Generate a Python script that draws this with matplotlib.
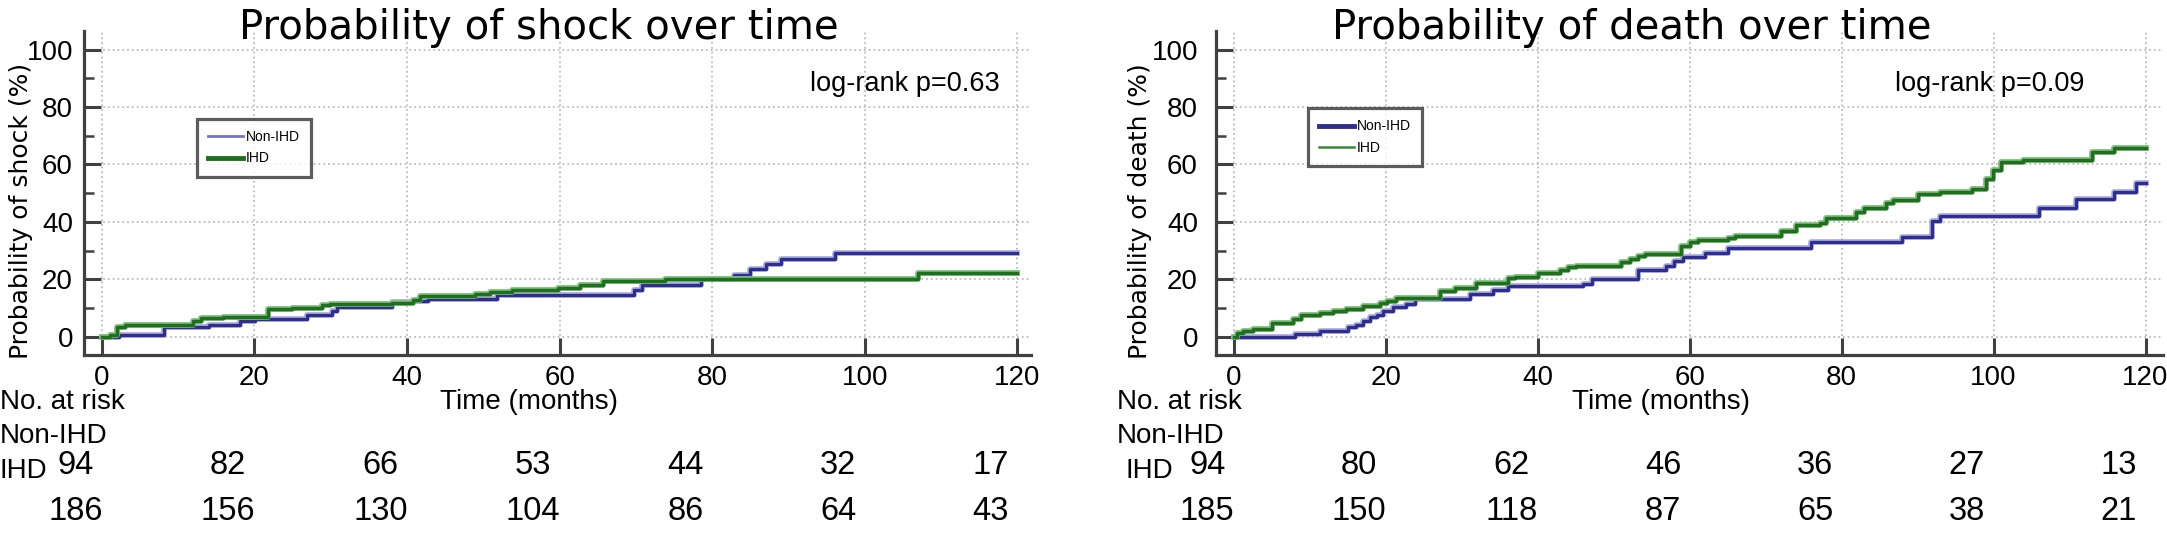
import matplotlib
matplotlib.use("Agg")
import matplotlib.pyplot as plt
import matplotlib.patheffects as pe
from matplotlib.lines import Line2D
from matplotlib.transforms import blended_transform_factory
from matplotlib.ticker import MultipleLocator

plt.rcParams['font.family'] = ['Liberation Sans', 'DejaVu Sans']

# ---- data (months, cumulative %) ----
shock_nonihd_t = [0, 2.2, 8.1, 14.1, 18.1, 20.1, 26.9, 30.1, 30.8, 38.0, 40.8, 42.8, 51.8,
                  69.7, 70.8, 78.6, 82.9, 85.0, 87.1, 89.0, 96.1, 120]
shock_nonihd_p = [0, 0.6, 3.2, 4.0, 5.5, 6.2, 7.5, 9.0, 10.2, 12.1, 12.4, 13.2, 14.5,
                  16.2, 17.9, 20.0, 21.4, 23.5, 25.3, 27.0, 29.0, 29.0]
shock_ihd_t = [0, 1.1, 2.0, 3.0, 12.0, 13.0, 15.9, 21.8, 24.9, 28.8, 29.9, 38.0, 40.8, 41.7,
               48.9, 50.9, 53.7, 59.8, 62.7, 65.7, 73.8, 107.0, 120]
shock_ihd_p = [0, 0.6, 3.2, 4.0, 5.5, 6.4, 7.0, 9.6, 10.0, 11.0, 11.4, 11.8, 12.9, 14.1,
               14.9, 15.6, 16.2, 17.1, 18.0, 19.4, 20.2, 22.1, 22.1]

death_nonihd_t = [0, 8.0, 11.3, 15.0, 16.1, 17.0, 17.9, 18.8, 19.6, 20.9, 22.7, 23.8, 31.1,
                  34.1, 36.1, 46.0, 47.1, 53.2, 56.9, 58.0, 59.1, 62.0, 65.0, 76.0, 87.9,
                  91.9, 92.9, 106.0, 110.9, 115.9, 118.8, 120]
death_nonihd_p = [0, 0.8, 2.1, 3.2, 4.1, 5.3, 6.8, 7.6, 8.8, 10.4, 11.5, 13.2, 14.7,
                  16.2, 17.6, 18.5, 20.0, 23.2, 24.7, 26.2, 27.6, 29.1, 30.9, 32.9, 34.8,
                  40.3, 42.1, 44.7, 47.9, 50.5, 53.5, 53.5]
death_ihd_t = [0, 0.35, 1.2, 2.5, 5.0, 7.8, 8.9, 11.3, 13.1, 14.8, 17.0, 19.2, 20.1, 21.4,
               27.1, 29.1, 31.9, 36.1, 37.0, 40.0, 42.9, 44.0, 45.1, 51.0, 52.1, 53.2, 54.1,
               58.9, 60.0, 61.1, 65.0, 65.9, 72.0, 74.0, 77.1, 77.9, 81.9, 83.0, 85.9, 86.8,
               90.0, 92.9, 97.1, 99.0, 99.9, 101.0, 103.9, 112.9, 115.9, 120]
death_ihd_p = [0, 1.2, 2.0, 2.8, 4.7, 6.1, 7.6, 8.2, 8.8, 9.6, 10.8, 11.8, 12.4, 13.5,
               15.9, 17.1, 18.8, 20.6, 20.9, 22.1, 23.3, 24.1, 24.7, 25.9, 27.0, 28.0, 28.8,
               31.5, 32.9, 33.8, 34.4, 35.2, 36.9, 38.9, 39.6, 41.4, 43.5, 44.7, 46.5, 47.7,
               49.7, 50.5, 51.6, 54.9, 58.1, 60.7, 61.4, 64.2, 65.6, 65.6]

risk_times = [0, 20, 40, 60, 80, 100, 120]
shock_risk_nonihd = [94, 82, 66, 53, 44, 32, 17]
shock_risk_ihd = [186, 156, 130, 104, 86, 64, 43]
death_risk_nonihd = [94, 80, 62, 46, 36, 27, 13]
death_risk_ihd = [185, 150, 118, 87, 65, 38, 21]

W, H = 2167, 544
BLUE = '#2e2e8f'
GREEN = '#1f6f1f'
AX_COL = '#404040'

fig = plt.figure(figsize=(W / 100, H / 100), dpi=100)
fig.patch.set_facecolor('white')


def fx(px):
    return px / W


def fy(py):
    return 1 - py / H


def km_panel(left_px, xmax, blue_t, blue_p, green_t, green_p, title, title_x, ylabel,
             ylab_x, ypad, pval, pval_x, risk_b, risk_g, leg_loc, leg_style):
    ax = fig.add_axes([fx(left_px), fy(355), 947 / W, 324.3 / H])
    ax.set_xlim(-2.35, xmax)
    ax.set_ylim(-6.4, 106.6)

    ax.step(blue_t, blue_p, where='post', color=BLUE, lw=2.3,
            path_effects=[pe.Stroke(linewidth=4.0, foreground='#a4a4dc'), pe.Normal()])
    ax.step(green_t, green_p, where='post', color=GREEN, lw=2.5,
            path_effects=[pe.Stroke(linewidth=4.2, foreground='#82c282'), pe.Normal()])

    for s in ['top', 'right']:
        ax.spines[s].set_visible(False)
    for s in ['left', 'bottom']:
        ax.spines[s].set_linewidth(2.3)
        ax.spines[s].set_color(AX_COL)

    ax.yaxis.set_minor_locator(MultipleLocator(10))
    ax.set_yticks([0, 20, 40, 60, 80, 100])
    ax.set_xticks(risk_times)
    ax.tick_params(axis='both', which='major', direction='in', length=12, width=2.2,
                   color=AX_COL, labelsize=20)
    ax.tick_params(axis='y', which='major', pad=ypad)
    ax.tick_params(axis='x', which='major', pad=7)
    ax.tick_params(axis='y', which='minor', direction='in', length=7, width=1.8, color=AX_COL)
    ax.grid(True, which='major', color='#bdbdbd', linestyle=':', linewidth=1.3)
    ax.set_axisbelow(True)

    ax.set_xlabel('Time (months)', fontsize=20, va='center')
    ax.xaxis.set_label_coords(0.47, -0.145)
    ax.set_ylabel(ylabel, fontsize=18, family='DejaVu Sans', va='center')
    ax.yaxis.set_label_coords(ylab_x, 0.445)

    fig.text(fx(title_x), fy(28), title, fontsize=29, family='DejaVu Sans',
             ha='center', va='center')
    fig.text(fx(pval_x), fy(84), pval, fontsize=19.5, ha='left', va='center')

    handles = [Line2D([], [], color=c, lw=w) for c, w in leg_style]
    leg = ax.legend(handles, ['Non-IHD', 'IHD'], loc='upper left', bbox_to_anchor=leg_loc,
                    fontsize=10, frameon=True, fancybox=False, handlelength=2.5,
                    handletextpad=0.2, labelspacing=0.55, borderpad=0.8)
    leg.get_frame().set_edgecolor('#333333')
    leg.get_frame().set_linewidth(2.3)

    # number at risk table
    tr = blended_transform_factory(ax.transData, fig.transFigure)
    lx = left_px - 84 if left_px < 500 else left_px - 99
    fig.text(fx(lx), fy(402), 'No. at risk', fontsize=20, ha='left', va='center')
    fig.text(fx(lx), fy(436), 'Non-IHD', fontsize=20, ha='left', va='center')
    fig.text(fx(lx + (0 if left_px < 500 else 9)), fy(471), 'IHD', fontsize=20,
             ha='left', va='center')
    for t, nb, ng in zip(risk_times, risk_b, risk_g):
        ax.text(t - 3.5, fy(465), str(nb), transform=tr, fontsize=23.5, ha='center', va='center')
        ax.text(t - 3.5, fy(512), str(ng), transform=tr, fontsize=23.5, ha='center', va='center')
    return ax


km_panel(84, 121.8, shock_nonihd_t, shock_nonihd_p, shock_ihd_t, shock_ihd_p,
         'Probability of shock over time', 539, 'Probability of shock (%)', -0.066, 8,
         'log-rank p=0.63', 810, shock_risk_nonihd, shock_risk_ihd, (0.112, 0.75),
         [('#7474c4', 2.0), (GREEN, 3.5)])
km_panel(1216, 122.3, death_nonihd_t, death_nonihd_p, death_ihd_t, death_ihd_p,
         'Probability of death over time', 1632, 'Probability of death (%)', -0.080, 13,
         'log-rank p=0.09', 1895, death_risk_nonihd, death_risk_ihd, (0.090, 0.782),
         [(BLUE, 3.5), ('#3a8a3a', 1.8)])

fig.savefig('out.png', dpi=100, facecolor='white')
